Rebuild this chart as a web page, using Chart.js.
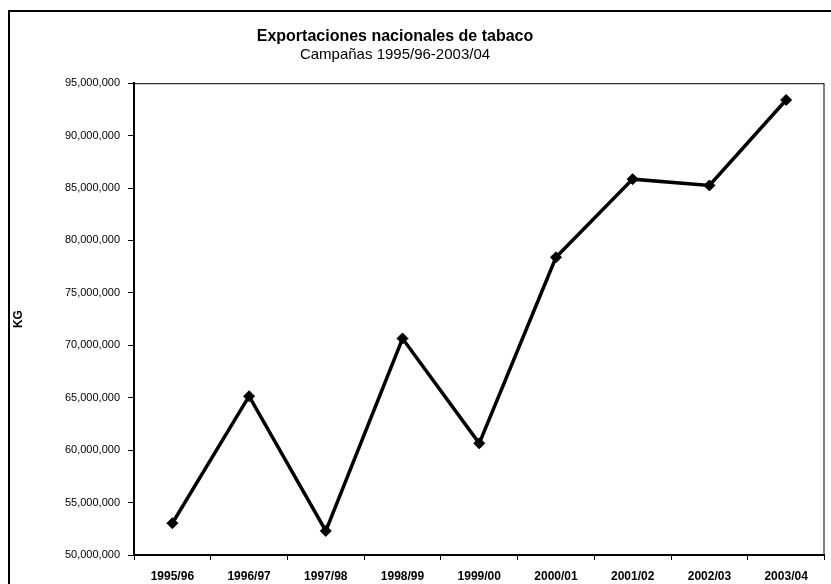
<!DOCTYPE html>
<html>
<head>
<meta charset="utf-8">
<script src="https://cdn.jsdelivr.net/npm/chart.js@4/dist/chart.umd.min.js"></script>
<style>
  html, body { margin: 0; padding: 0; background: #fff; }
  canvas { display: block; }
</style>
</head>
<body>
<canvas id="chart" width="831" height="584"></canvas>
<script>
// --------------------------- Data
const campanas = ['1995/96', '1996/97', '1997/98', '1998/99', '1999/00', '2000/01', '2001/02', '2002/03', '2003/04'];
const exportacionesKg = [53030000, 65150000, 52300000, 70650000, 60650000, 78400000, 85850000, 85250000, 93400000];

const Y_MIN = 50000000;
const Y_MAX = 95000000;
const Y_STEP = 5000000;

const FONT = '"Liberation Sans", Arial, sans-serif';
const TITLE_SHIFT = -24;   // title block sits a bit left of canvas centre in the scan

// outer frame + plot area border (Excel look), and nudge the titles left
const framePlugin = {
    id: 'frame',
    afterLayout(chart) {
        chart.boxes.forEach(b => {
            if (b.options && typeof b.options.text === 'string') {
                b.left += TITLE_SHIFT;
                b.right += TITLE_SHIFT;
            }
        });
    },
    afterDraw(chart) {
        const ctx = chart.ctx;
        const a = chart.chartArea;
        ctx.save();
        ctx.strokeStyle = '#000';
        ctx.lineWidth = 1;
        ctx.strokeRect(a.left + 0.5, a.top + 0.5, a.right - a.left - 1, a.bottom - a.top);
        ctx.lineWidth = 2;
        ctx.beginPath();
        ctx.moveTo(9, 600);
        ctx.lineTo(9, 11);
        ctx.lineTo(840, 11);
        ctx.stroke();
        ctx.restore();
    }
};

const data = {
    labels: campanas,
    datasets: [
        {
            label: 'KG',
            data: exportacionesKg,
            borderColor: '#000',
            backgroundColor: '#000',
            borderWidth: 3.5,
            tension: 0,
            pointStyle: 'rectRot',
            pointRadius: 5.5,
            pointBorderWidth: 1,
            pointBackgroundColor: '#000',
            pointBorderColor: '#000'
        }
    ]
};

const options = {
    responsive: false,
    animation: false,
    layout: {
        padding: { left: 9, right: 2, top: 0, bottom: 0 }
    },
    plugins: {
        legend: { display: false },
        tooltip: { enabled: false },
        title: {
            display: true,
            text: 'Exportaciones nacionales de tabaco',
            color: '#000',
            font: { family: FONT, size: 16, weight: 'bold' },
            padding: { top: 27, bottom: 0 }
        },
        subtitle: {
            display: true,
            text: 'Campañas 1995/96-2003/04',
            color: '#000',
            font: { family: FONT, size: 15 },
            padding: { top: 0, bottom: 19 }
        }
    },
    scales: {
        x: {
            type: 'category',
            offset: true,
            grid: {
                offset: true,
                drawOnChartArea: false,
                tickLength: 5,
                color: '#000'
            },
            border: { color: '#000', width: 1.5 },
            ticks: {
                color: '#000',
                font: { family: FONT, size: 12, weight: 'bold' },
                padding: 9,
                maxRotation: 0,
                autoSkip: false
            },
            afterFit(scale) { scale.height = 29; }
        },
        y: {
            min: Y_MIN,
            max: Y_MAX,
            grid: {
                drawOnChartArea: false,
                tickLength: 6,
                color: '#000'
            },
            border: { color: '#000', width: 2 },
            ticks: {
                stepSize: Y_STEP,
                color: '#000',
                font: { family: FONT, size: 11 },
                padding: 8,
                callback: v => v.toLocaleString('en-US')
            },
            title: {
                display: true,
                text: 'KG',
                color: '#000',
                font: { family: FONT, size: 12, weight: 'bold' },
                padding: { top: 2, bottom: 2 }
            },
            afterFit(scale) { scale.width = 125; }
        }
    }
};

const config = {
    type: 'line',
    data: data,
    options: options,
    plugins: [framePlugin]
};

const main_chart = new Chart(document.getElementById('chart'), config);
</script>
</body>
</html>
